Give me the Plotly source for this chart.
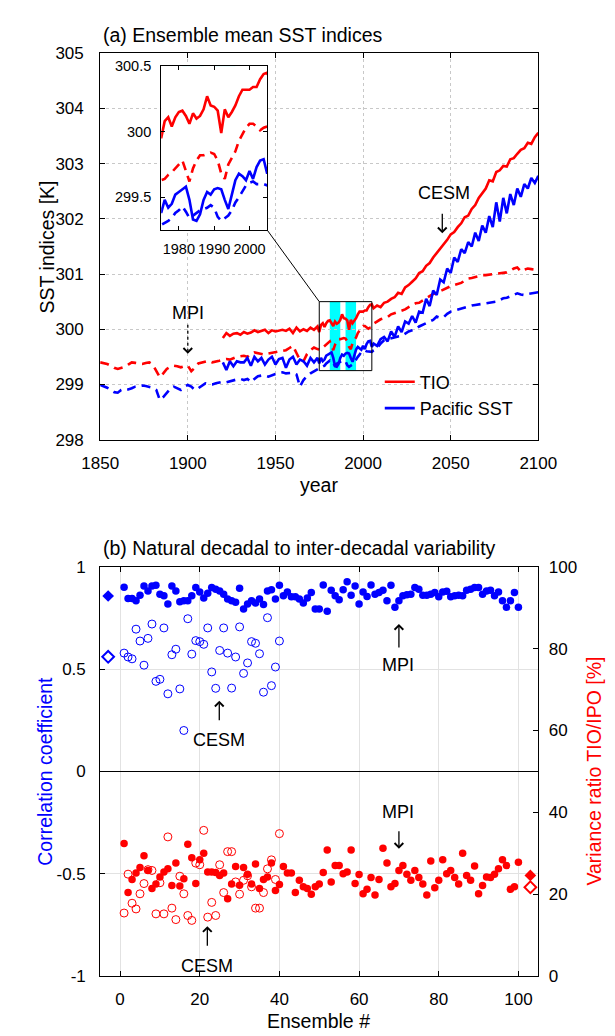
import plotly.graph_objects as go

# ---------------- Panel (a): ensemble-mean SST indices ----------------
yr_cesm = list(range(1920, 1975, 2)) + list(range(1975, 2006)) + list(range(2006, 2101, 2))
yr_mpi = list(range(1850, 1975, 2)) + list(range(1975, 2006)) + list(range(2006, 2101, 2))

tio_cesm = [
    299.84, 299.93, 299.88, 299.92, 299.93, 299.90, 299.95, 299.92, 299.94, 299.98,
    299.95, 299.97, 299.99, 299.93, 299.98, 299.96, 299.97, 299.99, 299.97, 300.01,
    299.93, 300.03, 299.96, 300.00, 299.97, 300.03, 299.99, 300.05,
    299.95, 300.08, 300.11, 300.04, 300.11, 300.15, 300.16, 300.12, 300.06, 300.14,
    300.10, 300.12, 300.17, 300.27, 300.20, 300.19, 300.16, 299.99, 300.17, 300.11,
    300.15, 300.20, 300.27, 300.32, 300.32, 300.32, 300.34, 300.34, 300.40, 300.44,
    300.45,
    300.38, 300.43, 300.40, 300.48, 300.50, 300.55, 300.58, 300.66, 300.64, 300.76,
    300.80, 300.86, 300.92, 301.02, 301.05, 301.15, 301.20, 301.30, 301.38, 301.45,
    301.55, 301.62, 301.72, 301.76, 301.85, 301.92, 302.03, 302.06, 302.18, 302.25,
    302.38, 302.46, 302.55, 302.70, 302.68, 302.85, 302.88, 302.96, 302.95, 303.08,
    303.10, 303.18, 303.25, 303.28, 303.38, 303.36, 303.48, 303.56,
]
pac_cesm = [
    299.40, 299.26, 299.42, 299.33, 299.42, 299.40, 299.40, 299.48, 299.34, 299.50,
    299.42, 299.48, 299.36, 299.45, 299.50, 299.36, 299.46, 299.48, 299.30, 299.45,
    299.50, 299.36, 299.45, 299.42, 299.34, 299.48, 299.40, 299.48,
    299.38, 299.48, 299.42, 299.45, 299.52, 299.54, 299.56, 299.58, 299.48, 299.33,
    299.32, 299.37, 299.48, 299.54, 299.52, 299.56, 299.57, 299.56, 299.48, 299.41,
    299.52, 299.63, 299.68, 299.66, 299.63, 299.70, 299.64, 299.73, 299.78, 299.79,
    299.68,
    299.74, 299.70, 299.82, 299.86, 299.78, 299.96, 299.86, 300.05, 299.95, 300.14,
    300.10, 300.24, 300.12, 300.32, 300.30, 300.55, 300.42, 300.70, 300.62, 300.90,
    300.85, 301.10, 301.02, 301.30, 301.22, 301.45, 301.38, 301.58, 301.50, 301.75,
    301.60, 301.88, 301.75, 302.05, 301.85, 302.30, 301.95, 302.38, 302.10, 302.45,
    302.25, 302.55, 302.40, 302.63, 302.55, 302.74, 302.65, 302.78,
]
tio_mpi = [
    299.40, 299.39, 299.37, 299.34, 299.30, 299.28, 299.30, 299.32, 299.36, 299.40,
    299.39, 299.38, 299.37, 299.39, 299.40, 299.36, 299.25, 299.13, 299.20, 299.28,
    299.32, 299.34, 299.33, 299.31, 299.33, 299.34, 299.24, 299.30, 299.38, 299.40,
    299.42, 299.43, 299.40, 299.41, 299.43, 299.45, 299.46, 299.45, 299.48, 299.50,
    299.51, 299.52, 299.50, 299.55, 299.58, 299.57, 299.55, 299.54, 299.56, 299.57,
    299.58, 299.60, 299.61, 299.62, 299.66, 299.70, 299.57, 299.44, 299.42, 299.55,
    299.62, 299.67, 299.64,
    299.63, 299.64, 299.67, 299.69, 299.72, 299.75, 299.78, 299.70, 299.62, 299.72,
    299.78, 299.82, 299.82, 299.83, 299.84, 299.83, 299.78, 299.68, 299.64, 299.75,
    299.80, 299.85, 299.93, 299.98, 300.03, 300.06, 300.06, 300.04, 300.01, 300.03,
    300.04,
    300.10, 300.14, 300.18, 300.20, 300.22, 300.27, 300.29, 300.31, 300.33, 300.36,
    300.40, 300.44, 300.47, 300.48, 300.52, 300.56, 300.61, 300.64, 300.66, 300.69,
    300.72, 300.76, 300.78, 300.80, 300.82, 300.84, 300.88, 300.92, 300.93, 300.95,
    300.97, 300.98, 300.98, 300.99, 301.00, 301.00, 301.02, 301.03, 301.03, 301.06,
    301.10, 301.12, 301.05, 301.08, 301.10, 301.09, 301.08, 301.09,
]
pac_mpi = [
    298.99, 298.97, 298.94, 298.90, 298.86, 298.85, 298.90, 298.92, 298.91, 298.93,
    298.96, 298.97, 298.98, 298.97, 298.96, 298.94, 298.90, 298.72, 298.77, 298.85,
    298.92, 298.96, 298.93, 298.90, 298.96, 298.99, 298.96, 298.90, 298.93, 298.97,
    299.02, 299.00, 299.00, 299.02, 299.03, 299.05, 299.04, 299.06, 299.07, 299.09,
    299.10, 299.08, 299.10, 299.04, 299.10, 299.15, 299.16, 299.16, 299.14, 299.17,
    299.19, 299.21, 299.22, 299.20, 299.20, 299.21, 299.18, 298.96, 299.08, 299.15,
    299.20, 299.24, 299.27,
    299.29, 299.30, 299.32, 299.34, 299.38, 299.40, 299.43, 299.39, 299.34, 299.36,
    299.38, 299.40, 299.41, 299.42, 299.44, 299.42, 299.35, 299.32, 299.34, 299.36,
    299.40, 299.46, 299.50, 299.54, 299.59, 299.61, 299.62, 299.60, 299.60, 299.60,
    299.59,
    299.62, 299.66, 299.74, 299.80, 299.82, 299.84, 299.86, 299.87, 299.88, 299.92,
    299.96, 299.98, 300.00, 300.05, 300.08, 300.10, 300.13, 300.17, 300.23, 300.21,
    300.22, 300.28, 300.32, 300.34, 300.36, 300.38, 300.40, 300.42, 300.43, 300.44,
    300.45, 300.47, 300.48, 300.49, 300.50, 300.50, 300.53, 300.56, 300.57, 300.60,
    300.62, 300.65, 300.63, 300.62, 300.64, 300.65, 300.66, 300.67,
]
volcanic_periods = [(1981, 1987), (1990, 1996)]
zoom_box = (1975, 2005, 299.25, 300.5)

# ---------------- Panel (b): natural decadal variability ----------------
ens100 = list(range(1, 101))
ens40 = list(range(1, 41))
corr_filled = [
    0.900, 0.845, 0.845, 0.834, 0.861, 0.906, 0.882, 0.906, 0.909, 0.866,
    0.858, 0.818, 0.906, 0.882, 0.829, 0.834, 0.834, 0.858, 0.898, 0.877,
    0.847, 0.871, 0.898, 0.890, 0.882, 0.866, 0.842, 0.834, 0.826, 0.895,
    0.794, 0.818, 0.834, 0.823, 0.842, 0.815, 0.882, 0.887, 0.842, 0.909,
    0.858, 0.877, 0.853, 0.853, 0.842, 0.823, 0.847, 0.874, 0.794, 0.794,
    0.911, 0.783, 0.885, 0.858, 0.839, 0.887, 0.927, 0.861, 0.906, 0.818,
    0.877, 0.855, 0.911, 0.866, 0.874, 0.885, 0.834, 0.909, 0.802, 0.834,
    0.858, 0.863, 0.866, 0.898, 0.890, 0.861, 0.861, 0.866, 0.874, 0.853,
    0.877, 0.880, 0.853, 0.858, 0.861, 0.858, 0.885, 0.890, 0.898, 0.898,
    0.866, 0.882, 0.885, 0.858, 0.877, 0.834, 0.802, 0.834, 0.874, 0.802,
]
corr_open = [
    0.578, 0.559, 0.550, 0.695, 0.637, 0.519, 0.650, 0.720, 0.440, 0.450,
    0.701, 0.379, 0.570, 0.597, 0.403, 0.200, 0.746, 0.573, 0.639, 0.634,
    0.621, 0.701, 0.486, 0.406, 0.591, 0.701, 0.578, 0.407, 0.559, 0.706,
    0.479, 0.530, 0.634, 0.626, 0.575, 0.387, 0.751, 0.419, 0.510, 0.637,
]
var_filled = [
    32.4, 20.4, 23.6, 25.2, 26.5, 29.4, 25.8, 21.4, 22.5, 24.2,
    25.4, 26.2, 22.1, 27.6, 22.0, 23.8, 32.2, 28.9, 22.6, 28.4,
    30.0, 25.4, 25.4, 25.3, 24.6, 25.2, 18.9, 22.5, 26.8, 22.2,
    26.5, 24.9, 22.5, 27.4, 21.4, 23.6, 24.2, 27.6, 20.9, 22.4,
    26.8, 25.2, 25.2, 20.4, 23.4, 21.8, 21.4, 20.0, 21.8, 22.5,
    25.3, 30.8, 23.0, 27.0, 27.0, 25.0, 25.4, 30.8, 22.6, 24.8,
    20.1, 21.2, 24.1, 19.8, 23.6, 31.2, 27.6, 21.8, 22.6, 25.8,
    27.0, 24.9, 23.4, 25.8, 24.1, 22.5, 19.8, 28.1, 21.6, 23.4,
    28.4, 25.0, 25.8, 24.1, 22.5, 30.0, 24.6, 23.4, 26.9, 20.1,
    22.1, 24.2, 24.1, 24.9, 26.2, 28.4, 27.0, 21.2, 21.8, 27.8,
]
var_open = [
    15.4, 24.9, 17.8, 16.4, 20.1, 22.6, 26.0, 25.8, 15.2, 22.8,
    15.2, 34.0, 16.6, 13.8, 24.4, 20.1, 14.8, 13.6, 27.6, 27.2,
    35.6, 14.4, 18.0, 14.8, 27.2, 20.4, 30.4, 30.4, 23.0, 20.0,
    23.4, 24.5, 21.8, 16.6, 16.6, 20.4, 26.2, 28.4, 23.6, 34.8,
]
corr_mean = {"x": -3, "filled": 0.857, "open": 0.56}
var_mean = {"x": 103, "filled": 24.6, "open": 21.7}

# ---------------- geometry ----------------
W, H = 615, 1036
def px(v): return v / W
def py(v): return 1 - v / H

XA = [px(78), px(545)]
YA = [py(430.5), py(37)]
YB = [py(977), py(560)]
XI = [px(143), px(256)]
YI = [py(217), py(50)]

FONT = "Liberation Sans, Arial, Helvetica, sans-serif"
RED, BLUE = "#ff0000", "#0000ff"
LW = 2.6
DASH = "9px,6px"

fig = go.Figure()

# main panel lines (and the same lines in the inset)
for xax, yax, leg in (("x", "y", True), ("x4", "y4", False)):
    fig.add_trace(go.Scatter(x=yr_mpi, y=tio_mpi, mode="lines", line=dict(color=RED, width=LW, dash=DASH),
                             showlegend=False, xaxis=xax, yaxis=yax, hoverinfo="skip"))
    fig.add_trace(go.Scatter(x=yr_mpi, y=pac_mpi, mode="lines", line=dict(color=BLUE, width=LW, dash=DASH),
                             showlegend=False, xaxis=xax, yaxis=yax, hoverinfo="skip"))
    fig.add_trace(go.Scatter(x=yr_cesm, y=tio_cesm, mode="lines", line=dict(color=RED, width=LW),
                             name="TIO", showlegend=leg, xaxis=xax, yaxis=yax, hoverinfo="skip"))
    fig.add_trace(go.Scatter(x=yr_cesm, y=pac_cesm, mode="lines", line=dict(color=BLUE, width=LW),
                             name="Pacific SST", showlegend=leg, xaxis=xax, yaxis=yax, hoverinfo="skip"))

# panel (b) markers
fig.add_trace(go.Scatter(x=ens100, y=corr_filled, mode="markers", marker=dict(color=BLUE, size=7.5),
                         showlegend=False, xaxis="x2", yaxis="y2"))
fig.add_trace(go.Scatter(x=ens40, y=corr_open, mode="markers",
                         marker=dict(symbol="circle-open", color=BLUE, size=8, line=dict(width=1)),
                         showlegend=False, xaxis="x2", yaxis="y2"))
fig.add_trace(go.Scatter(x=[corr_mean["x"]], y=[corr_mean["filled"]], mode="markers",
                         marker=dict(symbol="diamond", color=BLUE, size=9),
                         showlegend=False, xaxis="x2", yaxis="y2"))
fig.add_trace(go.Scatter(x=[corr_mean["x"]], y=[corr_mean["open"]], mode="markers",
                         marker=dict(symbol="diamond-open", color=BLUE, size=9, line=dict(width=2)),
                         showlegend=False, xaxis="x2", yaxis="y2"))
fig.add_trace(go.Scatter(x=ens100, y=var_filled, mode="markers", marker=dict(color=RED, size=7.5),
                         showlegend=False, xaxis="x2", yaxis="y3"))
fig.add_trace(go.Scatter(x=ens40, y=var_open, mode="markers",
                         marker=dict(symbol="circle-open", color=RED, size=8, line=dict(width=1)),
                         showlegend=False, xaxis="x2", yaxis="y3"))
fig.add_trace(go.Scatter(x=[var_mean["x"]], y=[var_mean["filled"]], mode="markers",
                         marker=dict(symbol="diamond", color=RED, size=9),
                         showlegend=False, xaxis="x2", yaxis="y3"))
fig.add_trace(go.Scatter(x=[var_mean["x"]], y=[var_mean["open"]], mode="markers",
                         marker=dict(symbol="diamond-open", color=RED, size=9, line=dict(width=2)),
                         showlegend=False, xaxis="x2", yaxis="y3"))

# ---------------- shapes ----------------
shapes = []
x0b, x1b, y0b, y1b = zoom_box
for a, b in volcanic_periods:
    shapes.append(dict(type="rect", xref="x", yref="y", x0=a, x1=b, y0=y0b, y1=y1b,
                       fillcolor="#00ffff", line=dict(width=0), layer="below"))
    shapes.append(dict(type="rect", xref="x4", yref="y4 domain", x0=a, x1=b, y0=0, y1=1,
                       fillcolor="#00ffff", line=dict(width=0), layer="below"))
shapes.append(dict(type="rect", xref="x", yref="y", x0=x0b, x1=x1b, y0=y0b, y1=y1b,
                   line=dict(color="black", width=1), layer="above"))
cx = XA[0] + (x0b - 1850) / 250 * (XA[1] - XA[0])
cy = YA[0] + (y1b - 298) / 7 * (YA[1] - YA[0])
shapes.append(dict(type="line", xref="paper", yref="paper", x0=XI[1], y0=YI[0], x1=cx, y1=cy,
                   line=dict(color="black", width=1)))
shapes.append(dict(type="line", xref="x", yref="y", x0=1900, x1=1900, y0=300.08, y1=299.62,
                   line=dict(color="black", width=1.3, dash="dot")))

# ---------------- annotations ----------------
ann = []
def text(x, y, s, xref, yref, size=18, color="black", xanchor="center", angle=0):
    ann.append(dict(x=x, y=y, xref=xref, yref=yref, text=s, showarrow=False, textangle=angle,
                    font=dict(size=size, color=color, family=FONT), xanchor=xanchor, yanchor="middle"))
def arrow(x, y, ay, xref, yref):
    ann.append(dict(x=x, y=y, xref=xref, yref=yref, text=" ", showarrow=True, ax=0, ay=ay,
                    arrowhead=4, arrowsize=1.3, arrowwidth=1.3, arrowcolor="black", standoff=0))

text(px(79), py(18), "(a) Ensemble mean SST indices", "paper", "paper", size=19.5, xanchor="left")
text(px(79), py(541), "(b) Natural decadal to inter-decadal variability", "paper", "paper", size=19.5, xanchor="left")
text(px(21), py(234), "SST indices [K]", "paper", "paper", size=19.5, angle=-90)
text(px(311), py(477), "year", "paper", "paper", size=19.5)
text(px(311), py(1023), "Ensemble #", "paper", "paper", size=19.5)
text(px(19), py(768), "Correlation coefficient", "paper", "paper", size=19.5, color=BLUE, angle=-90)
text(px(604), py(768), "Variance ratio TIO/IPO [%]", "paper", "paper", size=19.5, color=RED, angle=-90)

text(1900, 300.29, "MPI", "x", "y")
arrow(1900, 299.555, -12, "x", "y")
text(2046, 302.46, "CESM", "x", "y")
arrow(2045.2, 301.74, -28, "x", "y")

text(24.9, 0.153, "CESM", "x2", "y2")
arrow(24.9, 0.345, 28, "x2", "y2")
text(69.8, 0.522, "MPI", "x2", "y2")
arrow(70.0, 0.72, 32, "x2", "y2")
text(69.8, -0.196, "MPI", "x2", "y2")
arrow(70.0, -0.378, -26, "x2", "y2")
text(21.8, -0.952, "CESM", "x2", "y2")
arrow(21.9, -0.756, 28, "x2", "y2")

# ---------------- axes ----------------
AX = dict(showline=True, linecolor="black", linewidth=1, ticks="inside", ticklen=5, tickcolor="black",
          zeroline=False, tickfont=dict(size=17, color="black", family=FONT))
INSET_AX = {**AX, "tickfont": dict(size=14.5, color="black", family=FONT), "ticklen": 4}
grid_a = dict(showgrid=True, gridcolor="#c8c8c8", griddash="dot", gridwidth=1)
grid_b = dict(showgrid=True, gridcolor="#e2e2e2", gridwidth=1)

fig.update_layout(
    width=W, height=H, margin=dict(l=0, r=0, t=0, b=0),
    paper_bgcolor="white", plot_bgcolor="white",
    font=dict(family=FONT, color="black"),
    showlegend=True,
    legend=dict(x=px(376), y=py(353), xanchor="left", yanchor="top", bgcolor="rgba(0,0,0,0)",
                font=dict(size=18, family=FONT), tracegroupgap=0),
    xaxis=dict(domain=XA, anchor="y", range=[1850, 2100], tickvals=[1850, 1900, 1950, 2000, 2050, 2100],
               mirror="ticks", ticklabelstandoff=8, **AX, **grid_a),
    yaxis=dict(domain=YA, anchor="x", range=[298, 305], tickvals=list(range(298, 306)),
               mirror="ticks", ticklabelstandoff=12, **AX, **grid_a),
    xaxis2=dict(domain=XA, anchor="y2", range=[-5, 105], tickvals=[0, 20, 40, 60, 80, 100],
                mirror="ticks", ticklabelstandoff=8, **AX, **grid_b),
    yaxis2=dict(domain=YB, anchor="x2", range=[-1, 1], tickvals=[-1, -0.5, 0, 0.5, 1],
                ticktext=["-1", "-0.5", "0", "0.5", "1"], ticklabelstandoff=10, **AX, **grid_b),
    yaxis3=dict(overlaying="y2", side="right", anchor="x2", range=[0, 100],
                tickvals=[0, 20, 40, 60, 80, 100], showgrid=False, ticklabelstandoff=6, **AX),
    xaxis4=dict(domain=XI, anchor="y4", range=[1975, 2005], tickvals=[1980, 1990, 2000], tickangle=0,
                mirror="ticks", showgrid=False, ticklabelstandoff=6, **INSET_AX),
    yaxis4=dict(domain=YI, anchor="x4", range=[zoom_box[2], zoom_box[3]], tickvals=[299.5, 300, 300.5],
                ticktext=["299.5", "300", "300.5"], mirror="ticks", showgrid=False, ticklabelstandoff=6,
                **INSET_AX),
    shapes=shapes,
    annotations=ann,
)
fig.layout.yaxis2.zeroline = True
fig.layout.yaxis2.zerolinecolor = "black"
fig.layout.yaxis2.zerolinewidth = 1.3

fig.write_html("out.html")
